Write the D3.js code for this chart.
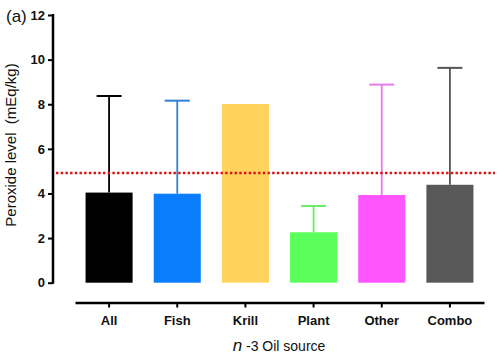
<!DOCTYPE html>
<html><head><meta charset="utf-8">
<script src="https://cdn.jsdelivr.net/npm/d3@7"></script>
<style>body{margin:0;background:#fff}svg{display:block;font-family:Arial,"Liberation Sans",sans-serif}</style>
</head><body><svg id="c" width="500" height="357"></svg>
<script>
const categories = ["All","Fish","Krill","Plant","Other","Combo"];
const means = [4.04, 3.99, 8.01, 2.26, 3.93, 4.39];
const errTops = [8.37, 8.16, null, 3.44, 8.88, 9.63];
const barColors = ["#000000","#0a7dfc","#ffd35e","#5bff5b","#ff55ff","#595959"];
const errColors = ["#000000","#2f80d8","#ffd35e","#66ee66","#e67ae6","#555555"];
const yTicks = [0,2,4,6,8,10,12];
const threshold = 4.92;

const svg = d3.select("#c");
const y = d3.scaleLinear().domain([0,12]).range([282.7,15]);
const x = d3.scaleBand().domain(categories).range([75,484]).paddingInner(0.31).paddingOuter(0.155);

// y axis
const yAxis = d3.axisLeft(y).tickValues(yTicks).tickSize(5).tickPadding(3).tickSizeOuter(0);
const gy = svg.append("g").attr("transform","translate(53,0)").call(yAxis);
gy.select(".domain").attr("stroke","#000").attr("stroke-width",2.5).attr("d","M0,"+(y(12)-1)+"V"+(y(0)+1));
gy.selectAll(".tick line").attr("stroke-width",2);
gy.selectAll(".tick text").attr("font-size",13).attr("font-weight","bold").attr("fill","#111").attr("font-family","Arial,'Liberation Sans',sans-serif");

// x axis
const xAxis = d3.axisBottom(x).tickSize(5).tickPadding(8).tickSizeOuter(0);
const gx = svg.append("g").attr("transform","translate(0,302.5)").call(xAxis);
gx.select(".domain").attr("stroke","#000").attr("stroke-width",2.5);
gx.selectAll(".tick line").attr("stroke-width",2);
gx.selectAll(".tick text").attr("font-size",13).attr("font-weight","bold").attr("fill","#111").attr("font-family","Arial,'Liberation Sans',sans-serif");

// bars
svg.append("g").selectAll("rect").data(categories).join("rect")
  .attr("x",d=>x(d)).attr("width",x.bandwidth())
  .attr("y",(d,i)=>y(means[i])).attr("height",(d,i)=>y(0)-y(means[i]))
  .attr("fill",(d,i)=>barColors[i]);

// error bars
const eg = svg.append("g");
categories.forEach((c,i)=>{
  if(errTops[i]==null) return;
  const cx = x(c)+x.bandwidth()/2;
  eg.append("line").attr("x1",cx).attr("x2",cx).attr("y1",y(means[i])).attr("y2",y(errTops[i]))
    .attr("stroke",errColors[i]).attr("stroke-width",1.8);
  eg.append("line").attr("x1",cx-12.5).attr("x2",cx+12.5).attr("y1",y(errTops[i])).attr("y2",y(errTops[i]))
    .attr("stroke",errColors[i]).attr("stroke-width",2);
});

// threshold line
svg.append("line").attr("x1",56).attr("x2",495).attr("y1",y(threshold)).attr("y2",y(threshold))
  .attr("stroke","#e01010").attr("stroke-width",2.6).attr("stroke-dasharray","2.4,2.3");

// labels
svg.append("text").attr("x",6).attr("y",22).attr("font-size",17).attr("fill","#111").text("(a)");
svg.append("text").attr("transform","translate(16,145) rotate(-90)").attr("text-anchor","middle")
  .attr("font-size",15).attr("fill","#111").attr("xml:space","preserve").text("Peroxide level  (mEq/kg)");
const xt = svg.append("text").attr("x",279).attr("y",351).attr("text-anchor","middle").attr("font-size",14).attr("fill","#111");
xt.append("tspan").attr("font-style","italic").attr("font-size",17).text("n");
xt.append("tspan").text(" -3 Oil source");
</script></body></html>
